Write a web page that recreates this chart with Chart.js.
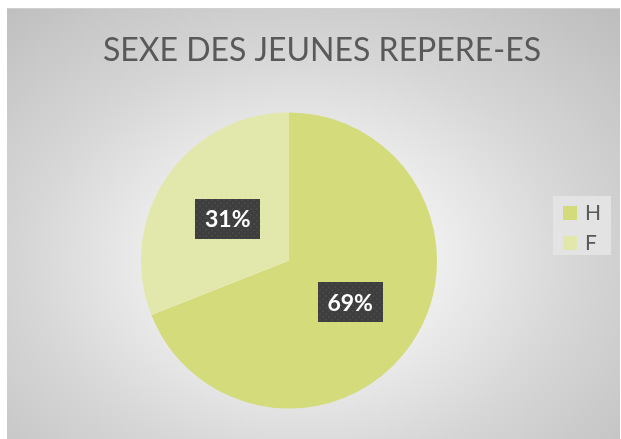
<!DOCTYPE html>
<html>
<head>
<meta charset="utf-8">
<script src="https://cdn.jsdelivr.net/npm/chart.js@4"></script>
<style>
  html, body { margin: 0; padding: 0; background: #ffffff; }
  #frame {
    position: absolute; left: 7px; top: 8px; width: 613px; height: 431px;
    background: radial-gradient(ellipse 75% 80% at 48% 58%, #ffffff 0%, #f2f2f2 25%, #d6d6d6 60%, #bdbdbd 100%);
    border-top: 1px solid #d0d0d0;
  }
  #wrap { position: absolute; left: 0; top: 0; width: 621px; height: 439px; }
</style>
</head>
<body>
<div id="frame"></div>
<div id="wrap"><canvas id="c" width="621" height="439"></canvas></div>
<script>
const titleText = "SEXE DES JEUNES REPERE-ES";
const categories = ["H", "F"];
const values = [69, 31];
const colors = ["#d4db7b", "#e2e8ab"];

function makePattern(ctx) {
  const p = document.createElement('canvas');
  p.width = 6; p.height = 6;
  const g = p.getContext('2d');
  g.fillStyle = '#3e3e3e';
  g.fillRect(0, 0, 6, 6);
  g.fillStyle = '#474747';
  g.fillRect(1, 1, 2, 2);
  g.fillRect(4, 4, 2, 2);
  return ctx.createPattern(p, 'repeat');
}

const titlePlugin = {
  id: 'customTitle',
  afterDraw(chart) {
    const ctx = chart.ctx;
    ctx.save();
    ctx.font = '32px Lato';
    ctx.fillStyle = '#595959';
    ctx.textAlign = 'center';
    ctx.textBaseline = 'alphabetic';
    ctx.fillText(titleText, 322, 61);
    ctx.restore();
  }
};

const labelPlugin = {
  id: 'boxLabels',
  afterDatasetsDraw(chart) {
    const ctx = chart.ctx;
    const meta = chart.getDatasetMeta(0);
    const ds = chart.data.datasets[0];
    const total = ds.data.reduce((a, b) => a + b, 0);
    const pat = makePattern(ctx);
    ctx.save();
    ctx.font = 'bold 23px Lato';
    meta.data.forEach((arc, i) => {
      const pos = arc.tooltipPosition();
      const txt = Math.round(ds.data[i] / total * 100) + '%';
      const w = 65;
      const h = 40;
      ctx.fillStyle = pat;
      ctx.fillRect(Math.round(pos.x - w / 2), Math.round(pos.y - h / 2), w, h);
      ctx.fillStyle = '#ffffff';
      ctx.textAlign = 'center';
      ctx.textBaseline = 'middle';
      ctx.fillText(txt, pos.x, pos.y + 1);
    });
    ctx.restore();
  }
};

const legendPlugin = {
  id: 'boxLegend',
  afterDraw(chart) {
    const ctx = chart.ctx;
    const ds = chart.data.datasets[0];
    const x0 = 553, y0 = 196, w = 58, h = 59;
    ctx.save();
    ctx.fillStyle = 'rgba(228,228,228,0.9)';
    ctx.fillRect(x0, y0, w, h);
    ctx.font = '21px Lato';
    ctx.textBaseline = 'middle';
    chart.data.labels.forEach((lab, i) => {
      const yy = 206 + i * 30;
      ctx.fillStyle = ds.backgroundColor[i];
      ctx.fillRect(563, yy, 14, 14);
      ctx.fillStyle = '#595959';
      ctx.textAlign = 'left';
      ctx.fillText(lab, 585, yy + 7);
    });
    ctx.restore();
  }
};

new Chart(document.getElementById('c'), {
  type: 'pie',
  data: {
    labels: categories,
    datasets: [{
      data: values,
      backgroundColor: colors,
      borderWidth: 0
    }]
  },
  options: {
    responsive: false,
    animation: false,
    layout: { padding: { left: 141, right: 184, top: 112.5, bottom: 30.5 } },
    plugins: {
      legend: { display: false },
      title: { display: false },
      tooltip: { enabled: false }
    }
  },
  plugins: [titlePlugin, labelPlugin, legendPlugin]
});
</script>
</body>
</html>
